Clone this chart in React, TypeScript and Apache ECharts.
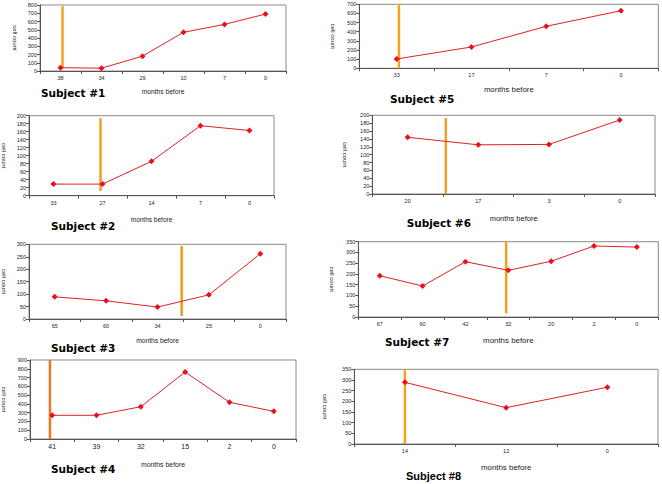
import React, { useEffect, useRef } from "react";
import * as echarts from "echarts";

// ---- Data ----
const s1Months = ["38", "34", "29", "10", "7", "0"];
const s1Counts = [40, 34, 180, 469, 565, 690];
const s1Marker = 0.05;
const s1MarkerRange = [33, 785];
const s1Axis = [800, 100];

const s2Months = ["33", "27", "14", "7", "0"];
const s2Counts = [29, 29, 86, 175, 163];
const s2Marker = 0.96;
const s2MarkerRange = [12, 194];
const s2Axis = [200, 20];

const s3Months = ["65", "60", "34", "25", "0"];
const s3Counts = [89, 73, 48, 97, 262];
const s3Marker = 2.47;
const s3MarkerRange = [12, 293];
const s3Axis = [300, 50];

const s4Months = ["41", "39", "32", "15", "2", "0"];
const s4Counts = [270, 270, 368, 763, 418, 315];
const s4Marker = -0.05;
const s4MarkerRange = [0, 900];
const s4Axis = [900, 100];

const s5Months = ["33", "17", "7", "0"];
const s5Counts = [102, 233, 459, 630];
const s5Marker = 0.03;
const s5MarkerRange = [0, 700];
const s5Axis = [700, 100];

const s6Months = ["20", "17", "3", "0"];
const s6Counts = [144, 125, 126, 188];
const s6Marker = 0.54;
const s6MarkerRange = [0, 193];
const s6Axis = [200, 20];

const s7Months = ["67", "60", "42", "32", "20", "2", "0"];
const s7Counts = [192, 144, 257, 217, 259, 330, 325];
const s7Marker = 2.95;
const s7MarkerRange = [17, 350];
const s7Axis = [350, 50];

const s8Months = ["14", "12", "0"];
const s8Counts = [289, 170, 266];
const s8Marker = 0.0;
const s8MarkerRange = [0, 350];
const s8Axis = [350, 50];

const titles = ["Subject #1", "Subject #2", "Subject #3", "Subject #4", "Subject #5", "Subject #6", "Subject #7", "Subject #8"];
const xName = "months before";
const yName = "cell count";

const subjects = [
  { months: s1Months, counts: s1Counts, marker: s1Marker, range: s1MarkerRange, axis: s1Axis },
  { months: s2Months, counts: s2Counts, marker: s2Marker, range: s2MarkerRange, axis: s2Axis },
  { months: s3Months, counts: s3Counts, marker: s3Marker, range: s3MarkerRange, axis: s3Axis },
  { months: s4Months, counts: s4Counts, marker: s4Marker, range: s4MarkerRange, axis: s4Axis },
  { months: s5Months, counts: s5Counts, marker: s5Marker, range: s5MarkerRange, axis: s5Axis },
  { months: s6Months, counts: s6Counts, marker: s6Marker, range: s6MarkerRange, axis: s6Axis },
  { months: s7Months, counts: s7Counts, marker: s7Marker, range: s7MarkerRange, axis: s7Axis },
  { months: s8Months, counts: s8Counts, marker: s8Marker, range: s8MarkerRange, axis: s8Axis },
];

// ---- Layout (pixels) ----
const layouts = [
  { left: 40, top: 5, w: 246, h: 66, xGap: 17, yGap: 22, nameSize: 6.7, xLab: 5.5, tx: 41, ty: 93, orange: "#f5a21f" },
  { left: 27.3, top: 115.7, w: 246.7, h: 80, xGap: 20, yGap: 22, nameSize: 6.5, xLab: 5.5, tx: 51, ty: 226, orange: "#f0a020" },
  { left: 27.3, top: 244.3, w: 258.7, h: 74.7, xGap: 18, yGap: 22, nameSize: 6.7, xLab: 5.5, tx: 51, ty: 348, orange: "#f39a1a" },
  { left: 28.7, top: 360, w: 267.3, h: 79, xGap: 22, yGap: 23, nameSize: 6.9, xLab: 7, tx: 51, ty: 469, orange: "#ea7a22" },
  { left: 359.3, top: 4.3, w: 299, h: 64, xGap: 17, yGap: 23, nameSize: 7.8, xLab: 5.5, tx: 390, ty: 99, orange: "#f5a21f" },
  { left: 372.3, top: 115.3, w: 282.7, h: 78.7, xGap: 20, yGap: 24, nameSize: 7.5, xLab: 5.5, tx: 406.7, ty: 223, orange: "#eea024" },
  { left: 358.3, top: 241.7, w: 300, h: 75.3, xGap: 19, yGap: 23, nameSize: 7.9, xLab: 5.5, tx: 385, ty: 342, orange: "#f7a01c" },
  { left: 354.3, top: 369.3, w: 303.7, h: 74.7, xGap: 19, yGap: 26, nameSize: 7.9, xLab: 5.5, tx: 406, ty: 476, orange: "#f5a21f" },
];

const FONT = "Liberation Sans, Arial, sans-serif";

export default function App() {
  const ref = useRef<HTMLDivElement>(null);
  useEffect(() => {
    if (!ref.current) return;
    const chart = echarts.init(ref.current, null, { renderer: "svg" });
    const n = subjects.length;
    const grid = layouts.map((l) => ({
      left: l.left,
      top: l.top,
      width: l.w,
      height: l.h,
      show: true,
      borderColor: "#8a8a8a",
      borderWidth: 1,
      backgroundColor: "transparent",
    }));
    const xAxis: any[] = [];
    const yAxis: any[] = [];
    const series: any[] = [];
    subjects.forEach((s, i) => {
      const l = layouts[i];
      xAxis.push({
        type: "category",
        gridIndex: i,
        data: s.months,
        boundaryGap: true,
        position: "bottom",
        axisLine: { onZero: false, lineStyle: { color: "#555", width: 1 } },
        axisTick: { show: true, length: 3, interval: 0, lineStyle: { color: "#555" } },
        axisLabel: { fontSize: l.xLab, color: "#222", margin: 4, fontFamily: FONT, interval: 0 },
        splitLine: { show: false },
        name: xName,
        nameLocation: "middle",
        nameGap: l.xGap,
        nameTextStyle: { fontSize: l.nameSize, color: "#222", fontFamily: FONT },
      });
      yAxis.push({
        type: "value",
        gridIndex: i,
        position: "left",
        min: 0,
        max: s.axis[0],
        interval: s.axis[1],
        axisLine: { show: true, onZero: false, lineStyle: { color: "#555", width: 1 } },
        axisTick: { show: true, length: 3, lineStyle: { color: "#555" } },
        axisLabel: { fontSize: 5.5, color: "#222", margin: 3, fontFamily: FONT },
        splitLine: { show: false },
        name: yName,
        nameLocation: "middle",
        nameRotate: -90,
        nameGap: l.yGap,
        nameTextStyle: { fontSize: 6, color: "#222", fontFamily: FONT },
      });
      series.push({
        type: "line",
        xAxisIndex: i,
        yAxisIndex: i,
        data: s.counts,
        symbol: "diamond",
        symbolSize: 6,
        lineStyle: { color: "#e02020", width: 1 },
        itemStyle: { color: "#e8101a" },
        z: 3,
        silent: true,
      });
    });
    subjects.forEach((s, i) => {
      xAxis.push({
        type: "value",
        gridIndex: i,
        position: "top",
        min: -0.5,
        max: s.months.length - 0.5,
        show: false,
        axisLine: { onZero: false },
      });
      series.push({
        type: "line",
        xAxisIndex: n + i,
        yAxisIndex: i,
        data: [
          [s.marker, s.range[0]],
          [s.marker, s.range[1]],
        ],
        symbol: "none",
        clip: false,
        lineStyle: { color: layouts[i].orange, width: 2.5 },
        z: 2,
        silent: true,
      });
    });
    const graphic = titles.map((t, i) => ({
      type: "text",
      x: layouts[i].tx,
      y: layouts[i].ty,
      style: {
        text: t,
        fontSize: i === 7 ? 11 : 10.5,
        fontWeight: "bold",
        fontFamily: i === 7 ? FONT : "DejaVu Sans, sans-serif",
        fill: "#000",
        verticalAlign: "middle",
      },
    }));
    chart.setOption({
      animation: false,
      backgroundColor: "#fff",
      grid,
      xAxis,
      yAxis,
      series,
      graphic,
    });
    return () => chart.dispose();
  }, []);
  return <div ref={ref} style={{ position: "absolute", left: 0, top: 0, width: 662, height: 484 }} />;
}
